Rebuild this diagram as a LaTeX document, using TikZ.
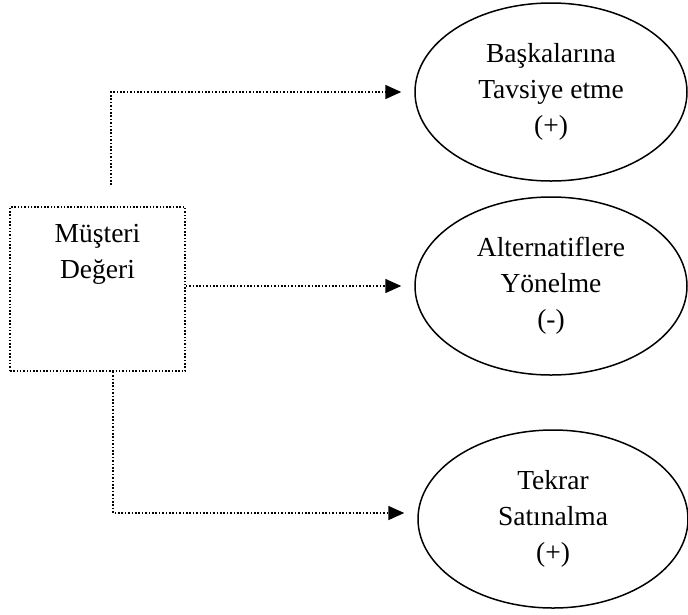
\documentclass[tikz,border=0pt]{standalone}
\usepackage{fontspec}
\setmainfont{Liberation Serif}
\usetikzlibrary{shapes.geometric,arrows.meta}
\begin{document}
\begin{tikzpicture}[x=1pt,y=-1pt,
  txt/.style={font=\fontsize{27.5}{36}\selectfont, align=center, inner sep=0pt},
  outcome/.style={ellipse, draw, line width=1.5pt, minimum width=272pt,
    minimum height=178pt, inner sep=0pt, txt},
  dotbox/.style={draw, line width=1.5pt, dash pattern=on 1.5pt off 1.8pt,
    minimum width=175pt, minimum height=164pt, inner sep=0pt},
  conn/.style={line width=1.6pt, dash pattern=on 1.6pt off 1.8pt,
    -{Triangle[length=16pt,width=14pt]}, shorten >=13pt}
]
\useasboundingbox (0,0) rectangle (688,614);

% source box and its caption
\node[dotbox] (mv) at (97.5,289) {};
\node[txt] (mvt) at (97.5,254) {Müşteri\\Değeri};

% outcomes
\node[outcome] (e1) at (551,92) {Başkalarına\\Tavsiye etme\\(+)};
\node[outcome] (e2) at (551,286) {Alternatiflere\\Yönelme\\(-)};
\node[outcome, minimum width=270pt] (e3) at (553,519) {Tekrar\\Satınalma\\(+)};

% connectors
\coordinate (up) at (111,185);
\draw[conn] (up) |- (e1.west);
\draw[conn] (mv.east |- e2.west) -- (e2.west);
\draw[conn] ([xshift=15.5pt]mv.south) |- ([yshift=6pt]e3.west);
\end{tikzpicture}
\end{document}
